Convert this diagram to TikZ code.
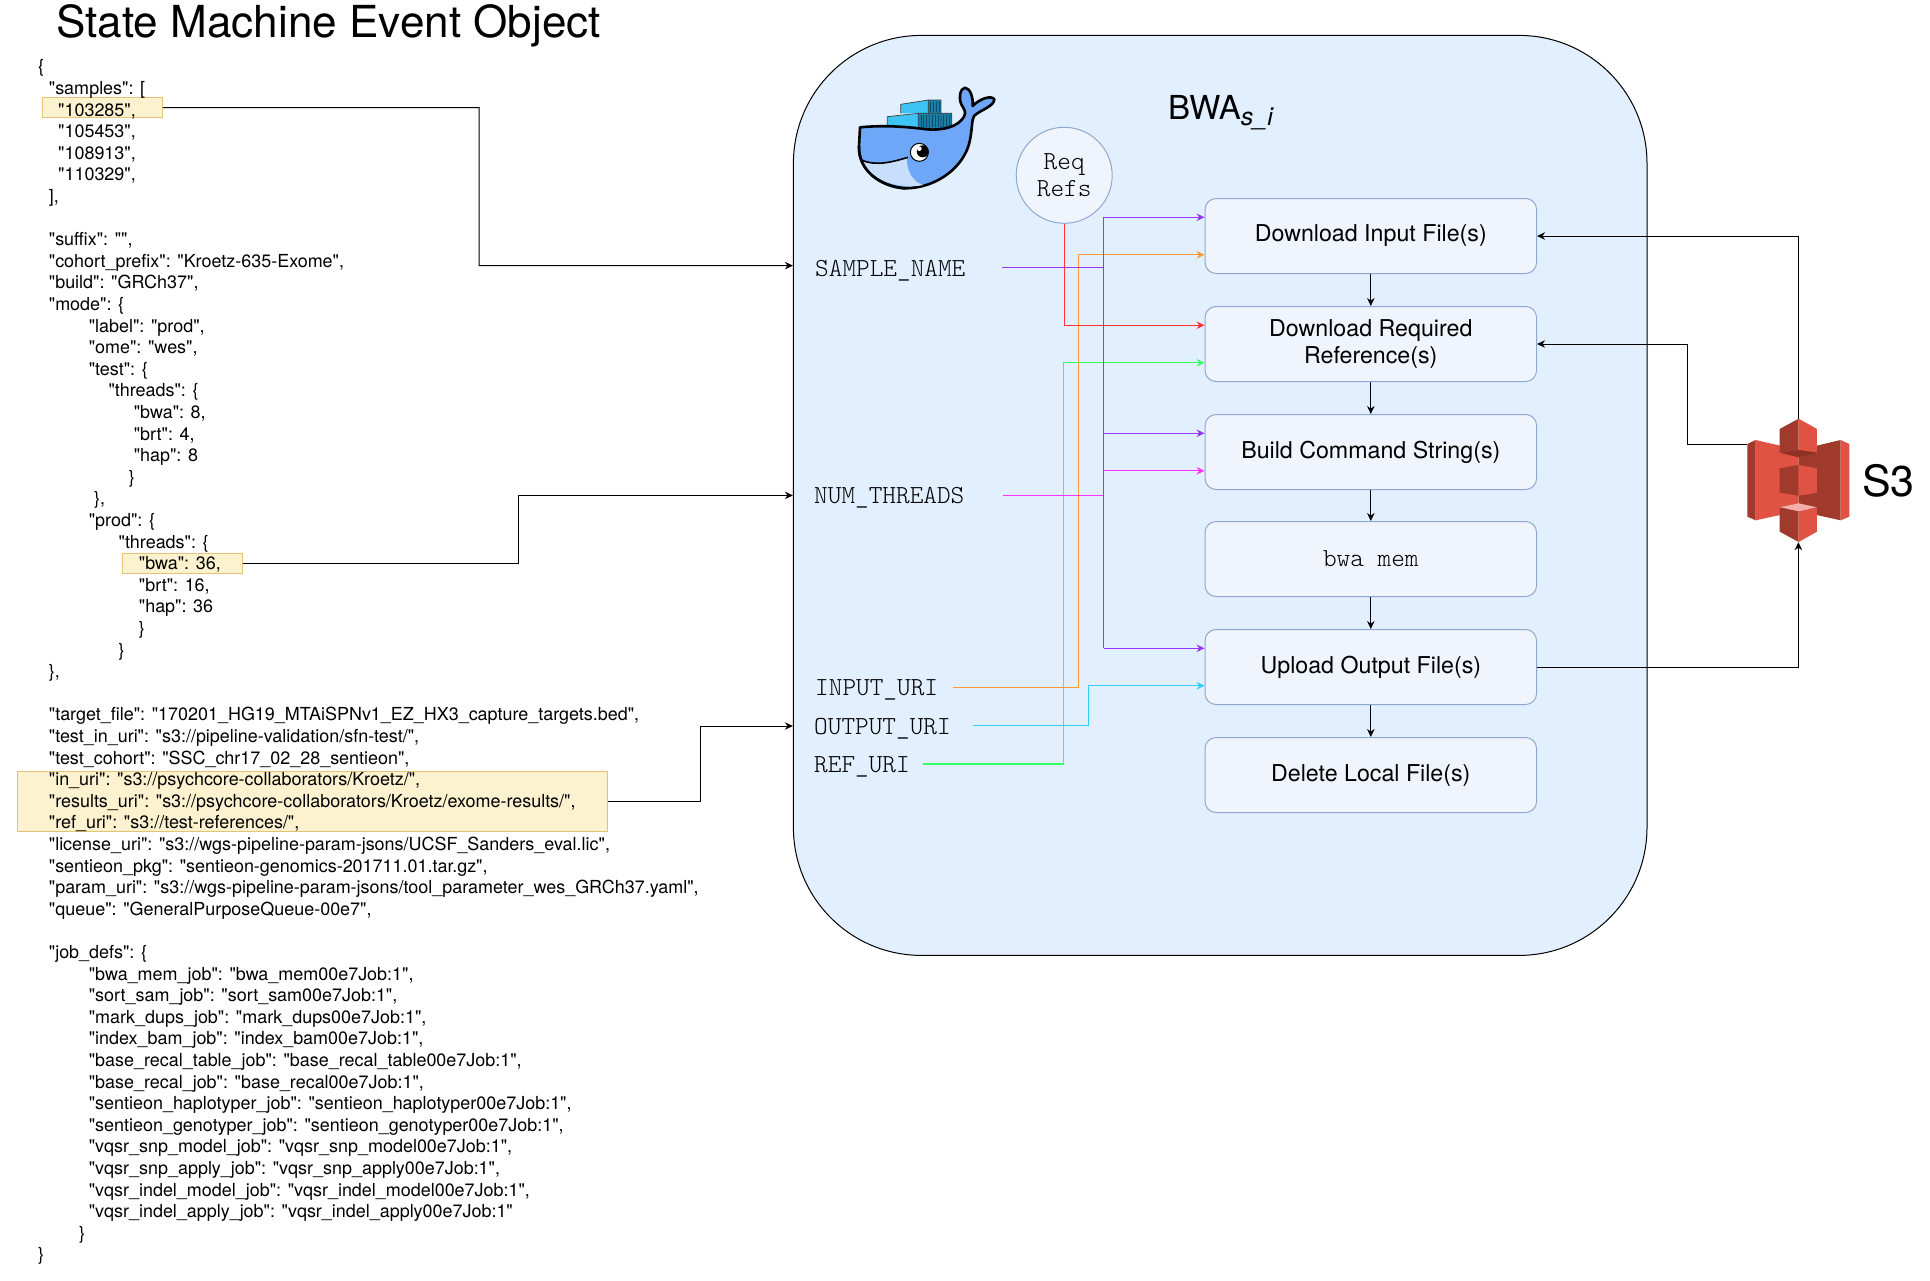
\documentclass[tikz,border=0pt]{standalone}
\usepackage{fontspec}
\setmainfont{TeX Gyre Heros}
\newfontfamily\jsonfont{TeX Gyre Heros}
\setmonofont{Latin Modern Mono Light}
\usetikzlibrary{arrows.meta,calc}
\definecolor{contfill}{HTML}{E2EFFE}
\definecolor{boxfill}{HTML}{F0F4FC}
\definecolor{boxline}{HTML}{8FA8D2}
\definecolor{hlfill}{HTML}{FDF2CF}
\definecolor{hlline}{HTML}{E5C374}
\definecolor{cPurple}{HTML}{9933FF}
\definecolor{cMagenta}{HTML}{FF33FF}
\definecolor{cOrange}{HTML}{FF9933}
\definecolor{cCyan}{HTML}{33CCFF}
\definecolor{cGreen}{HTML}{33FF66}
\definecolor{cRed}{HTML}{FF3333}
\definecolor{awsL}{HTML}{E05243}
\definecolor{awsD}{HTML}{9F3A2D}
\definecolor{awsX}{HTML}{8C3123}
\definecolor{awsT}{HTML}{F2B0A9}
\definecolor{whale}{HTML}{6EA6F8}
\definecolor{belly}{HTML}{C8DFFB}
\definecolor{crateL}{HTML}{3EC3F5}
\definecolor{crateD}{HTML}{1680A8}
\tikzset{
  jline/.style={anchor=base west,inner sep=0pt,font=\jsonfont\fontsize{17.95}{21}\selectfont},
  hlbox/.style={draw=hlline,fill=hlfill,line width=1pt,inner sep=0pt},
  stepbox/.style={draw=boxline,fill=boxfill,line width=1pt,rounded corners=11pt,minimum width=331.5pt,minimum height=75pt,inner sep=0pt,align=center,font=\fontsize{23.2}{27}\selectfont},
  monolabel/.style={anchor=base west,inner sep=0pt,font=\ttfamily\fontsize{26}{28}\selectfont},
  conn/.style={line width=1pt,-{Stealth[length=8pt,width=7.5pt]}},
  wire/.style={line width=1.1pt,-{Stealth[length=8pt,width=7.5pt]}},
  trunk/.style={line width=1.1pt}
}
\newcommand{\jl}[3]{\node[jline] (j#1) at (#2,{72.8+#1*21.6}) {#3};}
\begin{document}
\begin{tikzpicture}[x=1pt,y=-1pt]
\useasboundingbox (0,0) rectangle (1930,1280);
\fill[white] (0,0) rectangle (1930,1280);
% title
\node[anchor=base west,inner sep=0pt,font=\fontsize{44.1}{48}\selectfont] (title) at (56,37.5) {State Machine Event Object};
% highlights
\node[hlbox,minimum width=120pt,minimum height=20pt] (hl1) at (102.25,107.5) {};
\node[hlbox,minimum width=120pt,minimum height=20pt] (hl2) at (182.5,563.5) {};
\node[hlbox,minimum width=590pt,minimum height=60pt] (hl3) at (312.4,801.4) {};
% json
\jl{0}{38}{\{}
\jl{1}{48.7}{"samples": [}
\jl{2}{58}{"103285",}
\jl{3}{58}{"105453",}
\jl{4}{58}{"108913",}
\jl{5}{58}{"110329",}
\jl{6}{48.7}{],}
\jl{8}{48.7}{"suffix": "",}
\jl{9}{48.7}{"cohort\_prefix": "Kroetz-635-Exome",}
\jl{10}{48.7}{"build": "GRCh37",}
\jl{11}{48.7}{"mode": \{}
\jl{12}{88.6}{"label": "prod",}
\jl{13}{88.6}{"ome": "wes",}
\jl{14}{88.6}{"test": \{}
\jl{15}{108.4}{"threads": \{}
\jl{16}{133.6}{"bwa": 8,}
\jl{17}{133.6}{"brt": 4,}
\jl{18}{133.6}{"hap": 8}
\jl{19}{128.6}{\}}
\jl{20}{94}{\},}
\jl{21}{88.6}{"prod": \{}
\jl{22}{118.5}{"threads": \{}
\jl{23}{138.7}{"bwa": 36,}
\jl{24}{138.7}{"brt": 16,}
\jl{25}{138.7}{"hap": 36}
\jl{26}{138.7}{\}}
\jl{27}{118.5}{\}}
\jl{28}{48.7}{\},}
\jl{30}{48.7}{"target\_file": "170201\_HG19\_MTAiSPNv1\_EZ\_HX3\_capture\_targets.bed",}
\jl{31}{48.7}{"test\_in\_uri": "s3://pipeline-validation/sfn-test/",}
\jl{32}{48.7}{"test\_cohort": "SSC\_chr17\_02\_28\_sentieon",}
\jl{33}{48.7}{"in\_uri": "s3://psychcore-collaborators/Kroetz/",}
\jl{34}{48.7}{"results\_uri": "s3://psychcore-collaborators/Kroetz/exome-results/",}
\jl{35}{48.7}{"ref\_uri": "s3://test-references/",}
\jl{36}{48.7}{"license\_uri": "s3://wgs-pipeline-param-jsons/UCSF\_Sanders\_eval.lic",}
\jl{37}{48.7}{"sentieon\_pkg": "sentieon-genomics-201711.01.tar.gz",}
\jl{38}{48.7}{"param\_uri": "s3://wgs-pipeline-param-jsons/tool\_parameter\_wes\_GRCh37.yaml",}
\jl{39}{48.7}{"queue": "GeneralPurposeQueue-00e7",}
\jl{41}{48.7}{"job\_defs": \{}
\jl{42}{88.6}{"bwa\_mem\_job": "bwa\_mem00e7Job:1",}
\jl{43}{88.6}{"sort\_sam\_job": "sort\_sam00e7Job:1",}
\jl{44}{88.6}{"mark\_dups\_job": "mark\_dups00e7Job:1",}
\jl{45}{88.6}{"index\_bam\_job": "index\_bam00e7Job:1",}
\jl{46}{88.6}{"base\_recal\_table\_job": "base\_recal\_table00e7Job:1",}
\jl{47}{88.6}{"base\_recal\_job": "base\_recal00e7Job:1",}
\jl{48}{88.6}{"sentieon\_haplotyper\_job": "sentieon\_haplotyper00e7Job:1",}
\jl{49}{88.6}{"sentieon\_genotyper\_job": "sentieon\_genotyper00e7Job:1",}
\jl{50}{88.6}{"vqsr\_snp\_model\_job": "vqsr\_snp\_model00e7Job:1",}
\jl{51}{88.6}{"vqsr\_snp\_apply\_job": "vqsr\_snp\_apply00e7Job:1",}
\jl{52}{88.6}{"vqsr\_indel\_model\_job": "vqsr\_indel\_model00e7Job:1",}
\jl{53}{88.6}{"vqsr\_indel\_apply\_job": "vqsr\_indel\_apply00e7Job:1"}
\jl{54}{79}{\}}
\jl{55}{38}{\}}
% container
\node[draw=black,fill=contfill,line width=1pt,rounded corners=128pt,minimum width=853.6pt,minimum height=920pt,inner sep=0pt] (cont) at (1220.2,495.4) {};
\node[anchor=base west,inner sep=0pt,font=\fontsize{33}{36}\selectfont] (bwatitle) at (1168,119.3) {BWA{\fontsize{25}{25}\selectfont\itshape\raisebox{-6pt}{s\_i}}};
% whale
\begin{scope}[shift={(840,70)},x=0.3333pt,y=-0.3333pt]
  \fill[crateL] (182,103) -- (265,90) -- (265,130) -- (182,130) -- cycle;
  \fill[crateD] (265,90) -- (303,90) -- (303,130) -- (265,130) -- cycle;
  \fill[crateL] (142,140) -- (235,130) -- (235,175) -- (142,170) -- cycle;
  \fill[crateD] (235,130) -- (335,130) -- (335,178) -- (235,178) -- cycle;
  \draw[black!75,line width=0.7pt] (265,90) -- (265,130) (182,103) -- (265,90) -- (303,90) -- (303,130) (142,140) -- (235,130) -- (335,130) -- (335,175) (235,130) -- (235,175) (268,130) -- (268,178) (303,130) -- (303,178) (142,140) -- (142,168) (182,103) -- (182,130);
  \foreach \rx in {243,251,259,276,285,294,311,320,328}{\draw[crateD!60!black,line width=0.4pt] (\rx,136) -- (\rx,172);}
  \foreach \rx in {272,281,290,298}{\draw[crateD!60!black,line width=0.4pt] (\rx,96) -- (\rx,126);}
  \path[fill=whale,draw=black,line width=2.6pt,line join=round] (60,172) .. controls (130,165) and (200,170) .. (260,178) .. controls (310,182) and (355,170) .. (372,140) .. controls (380,125) and (372,118) .. (365,105) .. controls (355,85) and (360,55) .. (375,53) .. controls (392,55) and (400,85) .. (398,108) .. controls (420,85) and (455,75) .. (463,88) .. controls (462,110) and (420,120) .. (402,138) .. controls (395,150) and (397,175) .. (390,210) .. controls (375,290) and (290,355) .. (195,355) .. controls (120,350) and (55,300) .. (57,230) -- cycle;
  \fill[belly] (68,275) .. controls (110,290) and (160,275) .. (200,262) .. controls (200,300) and (215,335) .. (250,345) .. controls (190,358) and (100,340) .. (68,275) -- cycle;
  \draw[black,line width=1.6pt] (64,270) .. controls (110,290) and (160,275) .. (204,262);
  \fill[white,draw=black,line width=1pt] (238,247) circle[radius=27];
  \fill[black] (248,244) circle[radius=18];
  \fill[white] (238,236) circle[radius=7];
  \path[draw=black,line width=2.6pt] (195,355) .. controls (120,350) and (55,300) .. (57,230);
\end{scope}
% req refs
\node[draw=boxline,fill=boxfill,line width=1pt,circle,minimum size=96pt,inner sep=0pt,align=center,font=\ttfamily\fontsize{26}{27.7}\selectfont] (req) at (1064.2,175.3) {Req\\Refs};
% step boxes
\node[stepbox] (box1) at (1370.8,236) {Download Input File(s)};
\node[stepbox] (box2) at (1370.8,344) {Download Required\\Reference(s)};
\node[stepbox] (box3) at (1370.8,452) {Build Command String(s)};
\node[stepbox,font=\ttfamily\fontsize{26}{28}\selectfont] (box4) at (1370.8,559) {bwa mem};
\node[stepbox] (box5) at (1370.8,667) {Upload Output File(s)};
\node[stepbox] (box6) at (1370.8,775) {Delete Local File(s)};
% labels
\node[monolabel] (lSample) at (815,276.5) {SAMPLE\_NAME};
\node[monolabel] (lThreads) at (814,503.5) {NUM\_THREADS};
\node[monolabel] (lInput) at (815,695.5) {INPUT\_URI};
\node[monolabel] (lOutput) at (814,734.5) {OUTPUT\_URI};
\node[monolabel] (lRef) at (814,772.8) {REF\_URI};
% S3
\node[inner sep=0pt,minimum width=102pt,minimum height=123pt] (s3) at (1798.4,480.5) {};
\begin{scope}[shift={(1500,380)},x=0.3333pt,y=-0.3333pt]
  \fill[awsL] (767,180) -- (840,197) -- (896,210) -- (896,370) -- (840,405) -- (767,421) -- cycle;
  \fill[awsD] (742,192) -- (767,180) -- (767,421) -- (742,410) -- cycle;
  \fill[awsD] (896,210) -- (950,197) -- (1022,180) -- (1022,421) -- (950,405) -- (896,370) -- cycle;
  \fill[awsL] (1022,180) -- (1048,192) -- (1048,410) -- (1022,421) -- cycle;
  % top cube
  \fill[awsD] (839,147) -- (896,116) -- (896,210) -- (839,218) -- cycle;
  \fill[awsL] (896,116) -- (951,147) -- (951,218) -- (896,210) -- cycle;
  \fill[awsX] (839,218) -- (896,210) -- (951,218) -- (896,232) -- cycle;
  % middle cube
  \fill[awsD] (839,265) -- (896,255) -- (896,347) -- (839,338) -- cycle;
  \fill[awsL] (896,255) -- (951,265) -- (951,338) -- (896,347) -- cycle;
  % bottom cube
  \fill[awsT] (839,382) -- (896,370) -- (951,382) -- (896,394) -- cycle;
  \fill[awsD] (839,382) -- (896,394) -- (896,486) -- (839,455) -- cycle;
  \fill[awsL] (896,394) -- (951,382) -- (951,455) -- (896,486) -- cycle;
\end{scope}
\node[anchor=base west,inner sep=0pt,font=\fontsize{43}{46}\selectfont] (s3label) at (1862,496) {S3};
% coordinates
\coordinate (v1) at (479,265.6);
\coordinate (v2) at (518.8,495.4);
\coordinate (v3) at (700,726);
\coordinate (cSample) at (1002,267.3);
\coordinate (tSample) at (1103.6,267.3);
\coordinate (cThreads) at (1002.5,495.7);
\coordinate (tThreads) at (1103.6,495.7);
\coordinate (cInput) at (952.5,687.3);
\coordinate (tInput) at (1078.6,687.3);
\coordinate (cOutput) at (972.5,725.7);
\coordinate (tOutput) at (1088.6,725.7);
\coordinate (cRef) at (923,764);
\coordinate (tRef) at (1063.6,764);
\coordinate (s3a) at (1747,444);
\coordinate (s3b) at (1687,444);
\coordinate (pA) at ([yshift=18.75pt]box1.west);
\coordinate (pB) at ([yshift=18.75pt]box3.west);
\coordinate (pC) at ([yshift=18.75pt]box5.west);
% left connectors
\draw[conn] (hl1.east) -| (v1) -- ([yshift=229.8pt]cont.west);
\draw[conn] (hl2.east) -| (v2) -- (cont.west);
\draw[conn] (hl3.east) -| (v3) -- ([yshift=-230.6pt]cont.west);
% coloured wires
\draw[wire,cGreen] (cRef) -- (tRef) |- ([yshift=-18.75pt]box2.west);
\draw[wire,cOrange] (cInput) -- (tInput) |- ([yshift=-18.75pt]box1.west);
\draw[wire,cRed] (req.south) |- ([yshift=18.75pt]box2.west);
\draw[wire,cCyan] (cOutput) -- (tOutput) |- ([yshift=-18.75pt]box5.west);
\draw[wire,cMagenta] (cThreads) -- (tThreads) |- ([yshift=-18.75pt]box3.west);
\draw[trunk,cPurple] (cSample) -- (tSample);
\draw[trunk,cPurple] (tSample |- pA) -- (tSample |- pC);
\draw[wire,cPurple] (tSample |- pA) -- (pA);
\draw[wire,cPurple] (tSample |- pB) -- (pB);
\draw[wire,cPurple] (tSample |- pC) -- (pC);
% flow
\draw[conn] (box1) -- (box2);
\draw[conn] (box2) -- (box3);
\draw[conn] (box3) -- (box4);
\draw[conn] (box4) -- (box5);
\draw[conn] (box5) -- (box6);
% S3 connectors
\draw[conn] (s3.north) |- (box1.east);
\draw[conn] (s3a) -- (s3b) |- (box2.east);
\draw[conn] (box5.east) -| (s3.south);
\end{tikzpicture}
\end{document}
